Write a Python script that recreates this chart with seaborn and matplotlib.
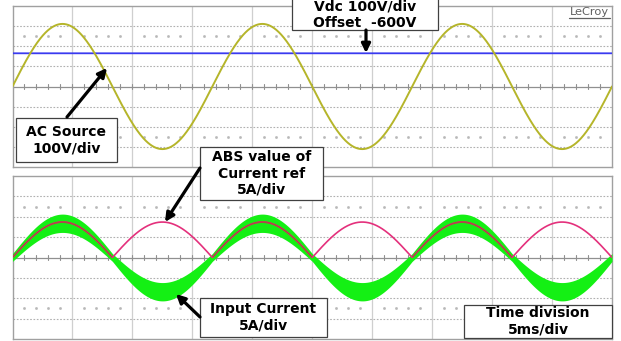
import numpy as np
import pandas as pd
import matplotlib
matplotlib.use("Agg")
import matplotlib.pyplot as plt
import seaborn as sns
from matplotlib.patches import Rectangle
from matplotlib.lines import Line2D

# ---------------- data ----------------
TIME_PER_DIV_MS = 5          # 5 ms/div
N_DIV_X = 10
N_DIV_Y = 8
LINE_FREQ_HZ = 60            # 3 full cycles in 50 ms
AC_PEAK_V = 311              # AC source, 100 V/div
AC_V_PER_DIV = 100
VDC_V = 765                  # DC link, 100 V/div, offset -600 V
VDC_OFFSET_V = -600
VDC_V_PER_DIV = 100
IREF_PEAK_A = 8.7            # |current reference|, 5 A/div
IIN_PEAK_A = 8.4             # input current (centre of ripple band), 5 A/div
IIN_RIPPLE_MIN_A = 0.95      # half-width of ripple band near zero crossing
IIN_RIPPLE_ADD_A = 1.3       # extra half-width at the peak
I_A_PER_DIV = 5

labels_ac = "AC Source\n100V/div"
labels_vdc = "Vdc 100V/div\nOffset  -600V"
labels_ref = "ABS value of\nCurrent ref\n5A/div"
labels_iin = "Input Current\n5A/div"
labels_time = "Time division\n5ms/div"

# ---------------- waveforms ----------------
t_ms = np.linspace(0, TIME_PER_DIV_MS * N_DIV_X, 3001)
phase = np.sin(2 * np.pi * LINE_FREQ_HZ * t_ms / 1000.0)
iref = IREF_PEAK_A * np.abs(phase) / I_A_PER_DIV
df = pd.DataFrame({
    "t": t_ms,
    "ac": AC_PEAK_V * phase / AC_V_PER_DIV,
    "vdc": (VDC_V + VDC_OFFSET_V) / VDC_V_PER_DIV + 0 * phase,
    "iref": iref,
    "iref_on_green": np.where(phase > 0.02, iref, np.nan),
    "iin": IIN_PEAK_A * phase / I_A_PER_DIV,
})
half_w = (IIN_RIPPLE_MIN_A + IIN_RIPPLE_ADD_A * np.abs(phase)) / I_A_PER_DIV

sns.set_style("white")
W, H = 621, 341
fig = plt.figure(figsize=(W / 100, H / 100), dpi=100)
fig.patch.set_facecolor("white")


def px_axes(x0, y0, x1, y1):
    return fig.add_axes([x0 / W, 1 - y1 / H, (x1 - x0) / W, (y1 - y0) / H])


ax1 = px_axes(12.5, 6, 612, 167)
ax2 = px_axes(12.5, 176, 612, 339)

xmax = TIME_PER_DIV_MS * N_DIV_X
for ax in (ax1, ax2):
    ax.set_xlim(0, xmax)
    ax.set_ylim(-N_DIV_Y / 2, N_DIV_Y / 2)
    for s in ax.spines.values():
        s.set_color("#a0a0a0"); s.set_linewidth(1.0); s.set_visible(True)
    for k in range(1, N_DIV_X):
        ax.axvline(k * TIME_PER_DIV_MS, color="#cfcfcf", lw=0.9, zorder=0)
    for k in range(-3, 4):
        if k != 0:
            ax.axhline(k, color="#b0b0b0", lw=0.8, ls=(0, (1.5, 1.5)), zorder=0)
    ax.axhline(0, color="#909090", lw=0.9, zorder=0)
    minor = np.arange(0, xmax + 1e-9, TIME_PER_DIV_MS / 5)
    for xm in minor:
        ax.plot([xm, xm], [-0.1, 0.1], color="#909090", lw=0.8, zorder=0)
    dots = [xm for xm in minor if abs(xm / TIME_PER_DIV_MS - round(xm / TIME_PER_DIV_MS)) > 1e-6]
    for yy in (2.5, -2.5):
        ax.plot(dots, [yy] * len(dots), ls="none", marker="s", ms=0.9,
                color="#b8b8b8", zorder=0)

# top panel traces
sns.lineplot(data=df, x="t", y="vdc", ax=ax1, color="#3a3af0", lw=1.3, zorder=3)
sns.lineplot(data=df, x="t", y="ac", ax=ax1, color="#b5b52a", lw=1.4, zorder=4)

# bottom panel traces
ax2.fill_between(df["t"], df["iin"] - half_w, df["iin"] + half_w,
                 color="#14f014", lw=0, zorder=3)
sns.lineplot(data=df, x="t", y="iref", ax=ax2, color="#e4307c", lw=1.2, zorder=4)
# where the reference runs over the green band it shows darker (keep NaN gaps)
ax2.plot(df["t"], df["iref_on_green"], color="#b04848", lw=1.2, zorder=5)

for ax in (ax1, ax2):
    ax.set_xlim(0, xmax)
    ax.set_ylim(-N_DIV_Y / 2, N_DIV_Y / 2)
    ax.set_xlabel(""); ax.set_ylabel("")
    ax.set_xticks([]); ax.set_yticks([])

# LeCroy logo
fig.text(589.5 / W, 1 - 12 / H, "LeCroy", ha="center", va="center",
         fontsize=8.2, color="#606060", family="DejaVu Sans")
fig.add_artist(Line2D([569 / W, 610 / W], [1 - 17.5 / H, 1 - 17.5 / H],
                      transform=fig.transFigure, color="#606060", lw=0.9))


def box(x0, y0, x1, y1, text, ty=None):
    fig.add_artist(Rectangle((x0 / W, 1 - y1 / H), (x1 - x0) / W, (y1 - y0) / H,
                             transform=fig.transFigure, facecolor="white",
                             edgecolor="#404040", lw=0.9, zorder=10))
    cy = (y0 + y1) / 2 if ty is None else ty
    fig.text((x0 + x1) / 2 / W, 1 - cy / H, text, ha="center", va="center",
             multialignment="center", fontsize=10, fontweight="bold",
             color="black", family="DejaVu Sans", linespacing=1.2, zorder=11)


def arrow(tail, tip):
    fig.add_artist(matplotlib.patches.FancyArrowPatch(
        (tail[0] / W, 1 - tail[1] / H), (tip[0] / W, 1 - tip[1] / H),
        transform=fig.transFigure, arrowstyle="-|>", mutation_scale=13,
        lw=2.3, color="black", zorder=12, shrinkA=0, shrinkB=0))


box(16, 118, 117, 162, labels_ac)
box(292, -6, 438, 30, labels_vdc, ty=14.5)
box(200, 147, 323, 200, labels_ref)
box(200, 298, 327, 337, labels_iin)
box(464, 305, 612, 338, labels_time)

arrow((67, 117), (107, 68))
arrow((366, 30), (366, 53))
arrow((200, 168), (165, 222))
arrow((200, 317), (176, 294))

fig.savefig("out.png", dpi=100)
